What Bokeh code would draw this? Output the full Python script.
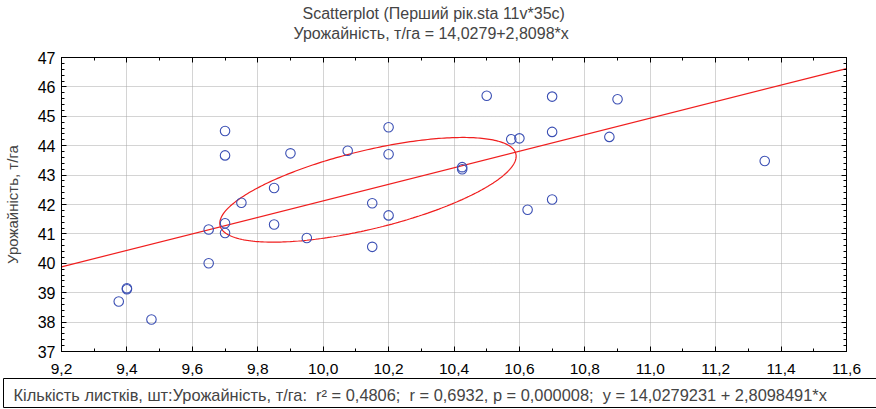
import numpy as np
from bokeh.plotting import figure
from bokeh.models import (Range1d, LinearAxis, FixedTicker, CustomJSTickFormatter, Title)
from bokeh.embed import file_html
from bokeh.resources import INLINE

# ---- data ----
leaves = [9.70, 9.70, 9.90, 10.075, 9.85, 9.75, 9.70, 9.70, 9.65, 9.85, 9.95, 9.65,
          9.40, 9.40, 9.375, 9.475,
          10.50, 10.70, 10.90, 10.20, 10.70, 10.575, 10.60, 10.875, 10.20, 10.425,
          10.425, 10.15, 10.20, 10.15, 10.70, 10.625, 11.35]
yield_t = [44.50, 43.67, 43.74, 43.83, 42.56, 42.06, 41.36, 41.03, 41.15, 41.32, 40.86, 40.00,
           39.15, 39.12, 38.70, 38.09,
           45.70, 45.67, 45.58, 44.63, 44.47, 44.22, 44.25, 44.30, 43.71, 43.27,
           43.20, 42.04, 41.63, 40.56, 42.17, 41.82, 43.48]

intercept = 14.0279
slope = 2.8098

x_limits = [9.2, 11.6]
y_limits = [37, 47]
x_ticks = [9.2, 9.4, 9.6, 9.8, 10.0, 10.2, 10.4, 10.6, 10.8, 11.0, 11.2, 11.4, 11.6]
y_ticks = [37, 38, 39, 40, 41, 42, 43, 44, 45, 46, 47]

# ellipse: centre, half extents, shape parameter
ell_center = [10.137, 42.50]
ell_half = [0.453, 1.78]
ell_shape = 0.64

title1 = "Scatterplot (Перший рік.sta 11v*35c)"
title2 = "Урожайність, т/га = 14,0279+2,8098*x"
y_label = "Урожайність, т/га"
NB = "\u00a0"
stats_text = ("Кількість листків, шт:Урожайність, т/га:" + NB + " r² = 0,4806;" + NB +
              " r = 0,6932, p = 0,000008;" + NB + " y = 14,0279231 + 2,8098491*x")

FONT = "Liberation Sans"
BLUE = "#3c50b4"
RED = "#f01e1e"

# minor ticks: 2 subdivisions on x, 5 on y
x_minor = [round(x_ticks[0] + 0.1 * i, 2) for i in range(int(round((x_ticks[-1] - x_ticks[0]) / 0.1)) + 1)]
y_minor = [round(y_ticks[0] + 0.2 * i, 2) for i in range(int(round((y_ticks[-1] - y_ticks[0]) / 0.2)) + 1)]

def xticker():
    return FixedTicker(ticks=x_ticks, minor_ticks=x_minor)

def yticker():
    return FixedTicker(ticks=y_ticks, minor_ticks=y_minor)

p = figure(width=876, height=409, output_backend="svg", toolbar_location=None,
           x_range=Range1d(*x_limits), y_range=Range1d(*y_limits),
           min_border_left=61, min_border_right=30, min_border_top=57, min_border_bottom=58)
p.background_fill_color = "white"
p.border_fill_color = "white"
p.outline_line_color = "black"

xfmt = CustomJSTickFormatter(code="return tick.toFixed(1).replace('.', ',');")
yfmt = CustomJSTickFormatter(code="return tick.toFixed(0);")

def style_axis(ax, ticker, fmt, show_labels, size="15px"):
    ax.ticker = ticker
    ax.formatter = fmt
    ax.axis_line_color = "black"
    ax.major_tick_in = 5
    ax.major_tick_out = 0
    ax.minor_tick_in = 3
    ax.minor_tick_out = 0
    ax.major_tick_line_color = "black"
    ax.minor_tick_line_color = "black"
    ax.major_label_text_font = FONT
    if show_labels:
        ax.major_label_text_font_size = size
        ax.major_label_text_color = "black"
    else:
        ax.major_label_text_font_size = "1px"
        ax.major_label_text_color = None
        ax.major_label_standoff = 0

style_axis(p.xaxis[0], xticker(), xfmt, True, "15.5px")
p.xaxis[0].major_label_standoff = 12
style_axis(p.yaxis[0], yticker(), yfmt, True, "16px")
p.yaxis[0].major_label_standoff = 6
p.yaxis[0].axis_label = y_label
p.yaxis[0].axis_label_text_font = FONT
p.yaxis[0].axis_label_text_font_size = "15px"
p.yaxis[0].axis_label_text_font_style = "normal"
p.yaxis[0].axis_label_standoff = 14

top_ax = LinearAxis()
style_axis(top_ax, xticker(), xfmt, False)
p.add_layout(top_ax, "above")
right_ax = LinearAxis()
style_axis(right_ax, yticker(), yfmt, False)
p.add_layout(right_ax, "right")

p.xgrid.ticker = FixedTicker(ticks=x_ticks)
p.ygrid.ticker = FixedTicker(ticks=y_ticks)
for g in (p.xgrid[0], p.ygrid[0]):
    g.grid_line_color = "#a8a8a8"
    g.grid_line_dash = "1 1"
    g.grid_line_width = 1

# titles (padding tuple order: left, right, top, bottom)
p.title.text = title1
p.title.text_font = FONT
p.title.text_font_size = "16px"
p.title.text_font_style = "normal"
p.title.align = "left"
p.title.offset = 241
p.title.standoff = 0
p.add_layout(Title(text=title2, text_font=FONT, text_font_size="16px",
                   text_font_style="normal", align="left", offset=232, standoff=3,
                   padding=(0, 0, 0, 14)),
             "above")

# stats box below the chart
p.add_layout(Title(text=stats_text, text_font=FONT, text_font_size="16.4px",
                   text_font_style="normal", align="left", offset=-58, standoff=0,
                   border_line_color="black", border_line_width=1,
                   padding=(10, 80, 7, 4)),
             "below")

# regression line
p.line(x_limits, [intercept + slope * v for v in x_limits], line_color=RED, line_width=1.2)

# ellipse
t = np.linspace(0, 2 * np.pi, 300)
ex = ell_center[0] + ell_half[0] * np.cos(t)
ey = ell_center[1] + ell_half[1] * (ell_shape * np.cos(t) + np.sqrt(1 - ell_shape ** 2) * np.sin(t))
p.line(ex, ey, line_color=RED, line_width=1.2)

# points
p.scatter(leaves, yield_t, marker="circle", size=9.5, fill_color=None,
          line_color=BLUE, line_width=1.1)

open("out.html", "w").write(file_html(p, INLINE))
